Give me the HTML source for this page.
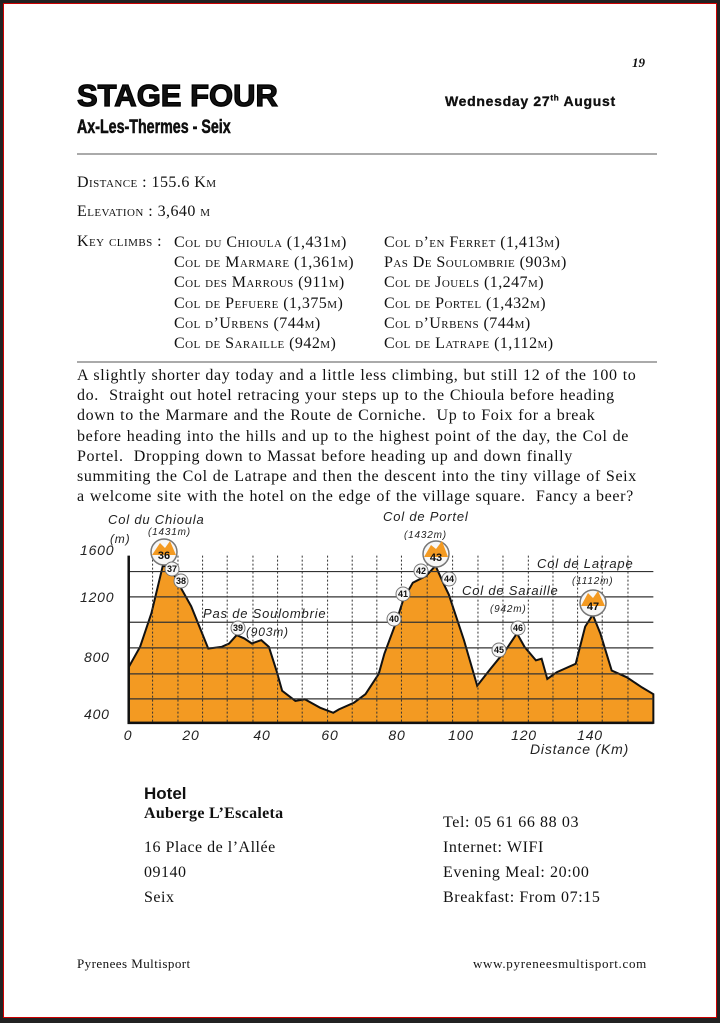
<!DOCTYPE html>
<html><head><meta charset="utf-8"><style>
html,body{margin:0;padding:0;background:#fff}
body{width:720px;height:1023px;position:relative;overflow:hidden;font-family:"Liberation Serif",serif;color:#111}
.frame{position:absolute;left:0;top:0;width:714px;height:1015px;border:3px solid #222;box-shadow:0 0 0 1px #c00 inset;border-bottom-width:5px}
.a{position:absolute;white-space:nowrap}
.sc{font-variant:small-caps;font-size:16px;letter-spacing:0.45px}
.hr{position:absolute;left:77px;width:580px;height:2px;background:#aaa}
.p{font-size:16px;letter-spacing:0.62px;word-spacing:0.5px;line-height:20.2px}
</style></head><body>
<div class="frame"></div>
<div class="a" style="left:632px;top:55px;font:italic bold 13px 'Liberation Serif',serif">19</div>
<div class="a" style="left:77px;top:78px;font:bold 31px 'Liberation Sans',sans-serif;-webkit-text-stroke:1.2px #000;transform:scaleX(1.0);transform-origin:left">STAGE FOUR</div>
<div class="a" style="left:77px;top:117px;font:bold 19px 'Liberation Sans',sans-serif;-webkit-text-stroke:0.5px #000;transform:scaleX(0.75);transform-origin:left">Ax-Les-Thermes - Seix</div>
<div class="a" style="left:445px;top:93px;font:bold 14px 'Liberation Sans',sans-serif;-webkit-text-stroke:0.3px #000;letter-spacing:0.7px">Wednesday 27<sup style="font-size:8px">th</sup> August</div>
<div class="hr" style="top:153px"></div>
<div class="a sc" style="left:77px;top:174px">Distance : 155.6 Km</div>
<div class="a sc" style="left:77px;top:203px">Elevation : 3,640 m</div>
<div class="a sc" style="left:77px;top:233px">Key climbs :</div>
<div class="a sc" style="left:174px;top:233px;line-height:20.2px">Col du Chioula (1,431m)<br>Col de Marmare (1,361m)<br>Col des Marrous (911m)<br>Col de Pefuere (1,375m)<br>Col d’Urbens (744m)<br>Col de Saraille (942m)</div>
<div class="a sc" style="left:384px;top:233px;line-height:20.2px">Col d’en Ferret (1,413m)<br>Pas De Soulombrie (903m)<br>Col de Jouels (1,247m)<br>Col de Portel (1,432m)<br>Col d’Urbens (744m)<br>Col de Latrape (1,112m)</div>
<div class="hr" style="top:361px"></div>
<div class="a p" style="left:77px;top:366px">A slightly shorter day today and a little less climbing, but still 12 of the 100 to<br>do.&nbsp; Straight out hotel retracing your steps up to the Chioula before heading<br>down to the Marmare and the Route de Corniche.&nbsp; Up to Foix for a break<br>before heading into the hills and up to the highest point of the day, the Col de<br>Portel.&nbsp; Dropping down to Massat before heading up and down finally<br>summiting the Col de Latrape and then the descent into the tiny village of Seix<br>a welcome site with the hotel on the edge of the village square.&nbsp; Fancy a beer?</div>

<svg class="a" style="left:0;top:0" width="720" height="1023">
<g transform="translate(70,505) scale(0.3788,0.3378)">
<path d="M155,480 L185,420 L215,320 L245,180 L265,185 L290,240 L320,300 L365,425 L400,420 L420,410 L440,385 L460,395 L480,410 L505,400 L525,420 L545,490 L560,550 L595,580 L620,575 L660,600 L695,615 L710,605 L750,585 L780,560 L815,500 L830,440 L860,350 L880,280 L905,230 L940,210 L965,180 L985,230 L1000,265 L1040,400 L1075,535 L1110,485 L1150,430 L1180,380 L1200,420 L1230,460 L1245,455 L1260,515 L1285,495 L1335,470 L1360,360 L1380,325 L1400,380 L1430,490 L1470,510 L1510,540 L1540,560 L1540,645 L155,645 Z" fill="#f39a22" stroke="#111" stroke-width="2" vector-effect="non-scaling-stroke"/>
<g stroke="#333" stroke-width="1" stroke-dasharray="2,2">
<path vector-effect="non-scaling-stroke" d="M218,150V645M285,150V645M350,150V645M415,150V645M483,150V645M548,150V645M613,150V645M680,150V645M745,150V645M810,150V645M875,150V645M943,150V645M1010,150V645M1077,150V645M1143,150V645M1210,150V645M1275,150V645M1340,150V645M1405,150V645M1473,150V645"/>
</g>
<g stroke="#333" stroke-width="1.2">
<path vector-effect="non-scaling-stroke" d="M155,197H1540M155,272H1540M155,347H1540M155,423H1540M155,500H1540M155,574H1540"/>
</g>
<path vector-effect="non-scaling-stroke" d="M155,150V645H1540" fill="none" stroke="#111" stroke-width="2.5"/>
</g>
<g font-family="'Liberation Sans',sans-serif" font-style="italic" fill="#222" letter-spacing="0.8">
<g font-size="13">
<text x="108" y="524">Col du Chioula</text>
<text x="383" y="521">Col de Portel</text>
<text x="537" y="568">Col de Latrape</text>
<text x="462" y="595">Col de Saraille</text>
<text x="203" y="618">Pas de Soulombrie</text>
<text x="530" y="754" font-size="14">Distance (Km)</text>
</g>
<g font-size="10">
<text x="148" y="535">(1431m)</text>
<text x="404" y="538">(1432m)</text>
<text x="572" y="584">(1112m)</text>
<text x="490" y="612">(942m)</text>
<text x="246" y="636" font-size="12">(903m)</text>
<text x="110" y="543" font-size="12">(m)</text>
</g>
<g font-size="14">
<text x="80" y="555">1600</text><text x="80" y="602">1200</text><text x="84" y="662">800</text><text x="84" y="719">400</text>
<g text-anchor="middle"><text x="128" y="740">0</text><text x="191" y="740">20</text><text x="262" y="740">40</text><text x="330" y="740">60</text><text x="397" y="740">80</text><text x="461" y="740">100</text><text x="524" y="740">120</text><text x="590" y="740">140</text></g>
</g>
</g>
<g font-family="'Liberation Sans',sans-serif" font-weight="bold" text-anchor="middle" fill="#111">
<g stroke="#777" stroke-width="1.5">
<circle cx="164" cy="552" r="13" fill="#f7f7f7"/><circle cx="436" cy="554" r="13" fill="#f7f7f7"/><circle cx="593" cy="603" r="13" fill="#f7f7f7"/>
</g>
<path d="M152,555 L160,543 L165,548 L170,541 L176,555 Z M424,557 L431,545 L436,549 L442,541 L448,557 Z M581,606 L588,593 L593,598 L598,591 L605,606 Z" fill="#f39a22"/>
<text x="164" y="559" font-size="11">36</text><text x="436" y="561" font-size="11">43</text><text x="593" y="610" font-size="11">47</text>
<g stroke="#777" stroke-width="1" fill="#f7f7f7">
<circle cx="172" cy="569" r="7"/><circle cx="181" cy="581" r="7"/><circle cx="238" cy="628" r="7"/><circle cx="394" cy="619" r="7"/><circle cx="403" cy="594" r="7"/><circle cx="421" cy="571" r="7"/><circle cx="449" cy="579" r="7"/><circle cx="499" cy="650" r="7"/><circle cx="518" cy="628" r="7"/>
</g>
<g font-size="9">
<text x="172" y="572">37</text><text x="181" y="584">38</text><text x="238" y="631">39</text><text x="394" y="622">40</text><text x="403" y="597">41</text><text x="421" y="574">42</text><text x="449" y="582">44</text><text x="499" y="653">45</text><text x="518" y="631">46</text>
</g>
</g>
</svg>

<div class="a" style="left:144px;top:784px;font:bold 17px 'Liberation Sans',sans-serif">Hotel</div>
<div class="a" style="left:144px;top:805px;font-weight:bold;font-size:16px;letter-spacing:0.3px">Auberge L’Escaleta</div>
<div class="a" style="left:144px;top:835px;font-size:16px;letter-spacing:0.5px;line-height:25px">16 Place de l’Allée<br>09140<br>Seix</div>
<div class="a" style="left:443px;top:810px;font-size:16px;letter-spacing:0.6px;line-height:25px">Tel: 05 61 66 88 03<br>Internet: WIFI<br>Evening Meal: 20:00<br>Breakfast: From 07:15</div>
<div class="a" style="left:77px;top:956px;font-size:13px;letter-spacing:0.45px">Pyrenees Multisport</div>
<div class="a" style="right:73px;top:956px;font-size:13px;letter-spacing:0.7px">www.pyreneesmultisport.com</div>
</body></html>
